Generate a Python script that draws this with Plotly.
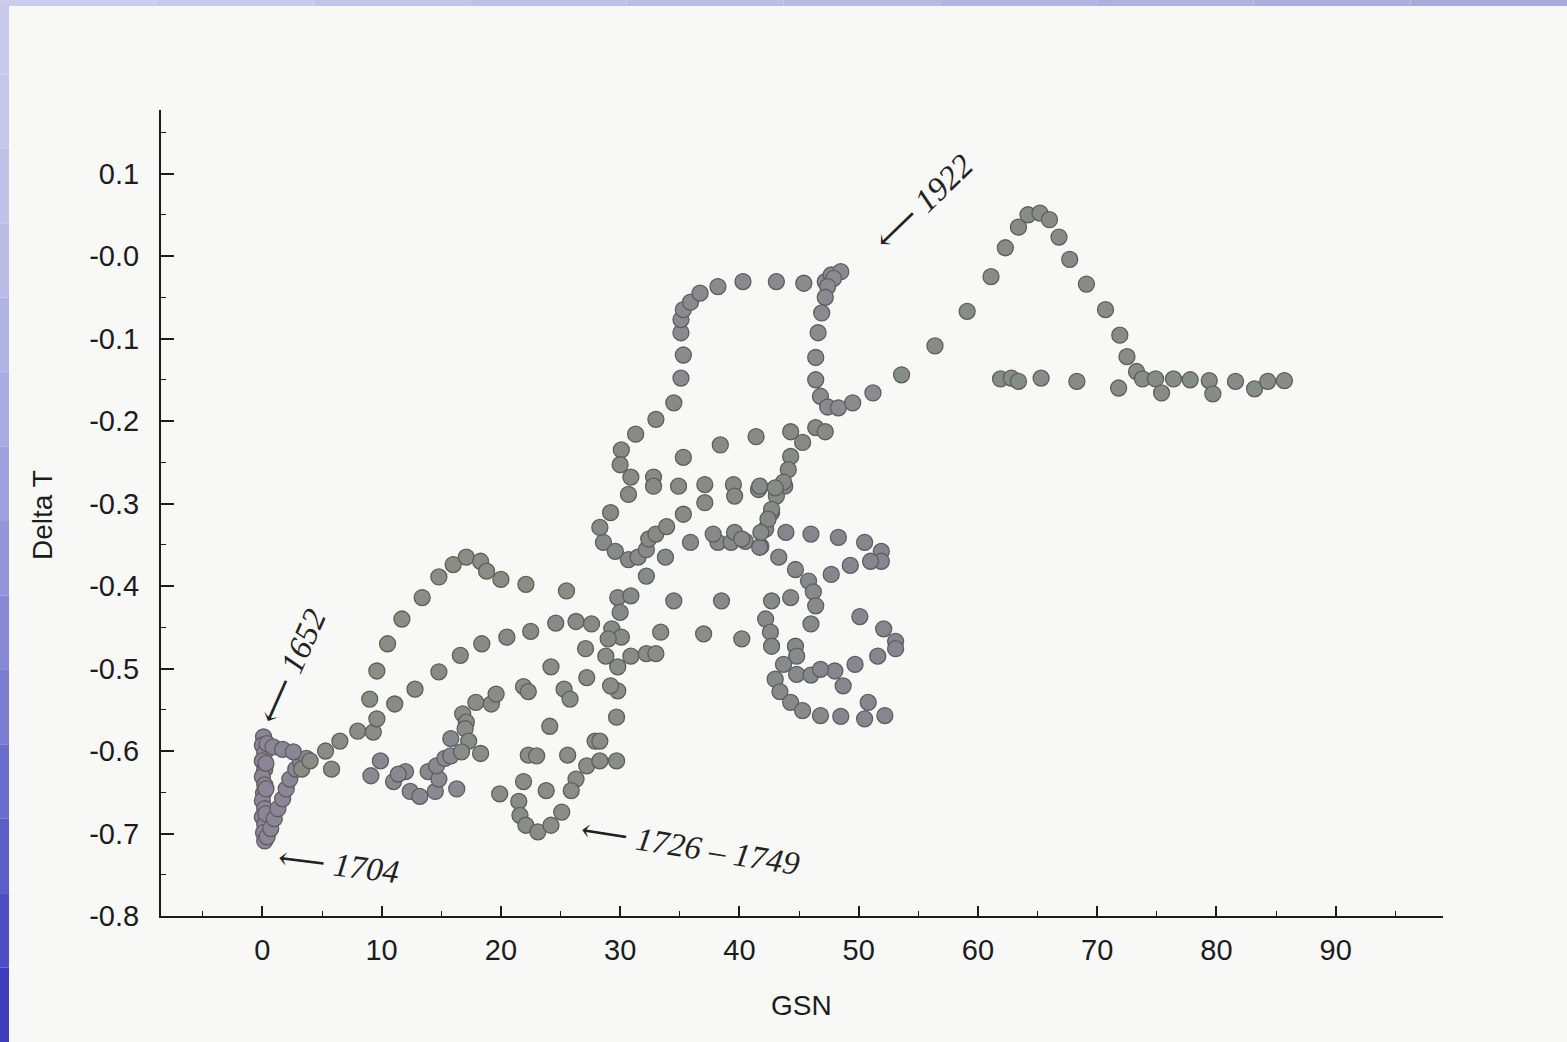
import plotly.graph_objects as go

# ---- data (GSN vs Delta T) ----
maunder_gsn = [0.1,0.0,0.2,0.0,0.2,0.0,0.2,0.1,0.0,0.2,0.0,0.2,0.1,0.2,0.4,0.3,0.3,0.3,0.4,
               0.7,1.0,1.3,1.7,2.0,2.3,2.8,3.2,3.7,0.9,1.7,2.6]
maunder_dt = [-0.583,-0.593,-0.602,-0.612,-0.622,-0.631,-0.641,-0.651,-0.660,-0.670,-0.680,-0.689,-0.699,-0.709,
              -0.591,-0.615,-0.646,-0.676,-0.704,
              -0.694,-0.682,-0.670,-0.658,-0.646,-0.634,-0.622,-0.613,-0.609,-0.595,-0.598,-0.601]

arc_gsn = [3.3,4.0,5.8,5.3,6.5,8.0,9.3,9.6,9.0,9.6,10.5,11.7,13.4,14.8,16.0,17.1,18.3,18.8,20.0,22.1,25.5]
arc_dt = [-0.622,-0.612,-0.622,-0.600,-0.588,-0.576,-0.577,-0.561,-0.537,-0.503,-0.470,-0.440,-0.414,-0.389,
          -0.374,-0.365,-0.370,-0.382,-0.392,-0.398,-0.406]

mid_gsn = [11.1,12.8,14.8,16.6,18.4,20.5,22.5,24.6,26.3,27.6,29.3,30.1,29.0]
mid_dt = [-0.543,-0.525,-0.504,-0.484,-0.470,-0.462,-0.455,-0.445,-0.443,-0.446,-0.452,-0.462,-0.464]

ring_gsn = [9.9,9.1,11.0,12.0,12.4,13.2,13.9,14.5,14.8,14.6,15.3,15.8,15.8,16.3,11.4]
ring_dt = [-0.612,-0.630,-0.637,-0.625,-0.649,-0.655,-0.625,-0.649,-0.634,-0.618,-0.609,-0.606,-0.585,-0.646,-0.628]

low_gsn = [16.8,17.1,17.0,17.3,16.7,18.3,17.9,19.2,19.6,21.9,22.3,24.2,25.3,25.8,27.1,27.2,24.1,22.3,23.0,25.6,
           27.9,27.2,26.3,25.9,23.8,21.9,19.9,21.5,21.6,22.1,23.1,24.2,25.1,28.3,29.7,28.3,29.7,29.8,29.2,29.8,
           28.8,30.9,32.2,33.0,33.4,37.0,40.2]
low_dt = [-0.555,-0.565,-0.573,-0.588,-0.601,-0.603,-0.541,-0.543,-0.531,-0.522,-0.528,-0.498,-0.525,-0.537,
          -0.476,-0.511,-0.570,-0.605,-0.606,-0.605,-0.588,-0.618,-0.634,-0.648,-0.648,-0.637,-0.652,-0.661,
          -0.678,-0.690,-0.698,-0.690,-0.674,-0.612,-0.612,-0.588,-0.559,-0.527,-0.521,-0.498,-0.485,-0.485,
          -0.482,-0.482,-0.456,-0.458,-0.464]

upmid_gsn = [28.6,29.6,30.7,31.5,32.2,33.8,35.9,38.2,39.3,41.8,43.3,44.7,45.8,46.2,46.4,46.0,
             32.2,29.8,30.9,30.0,34.5,38.5,
             42.7,44.3,42.2,42.6,42.7,44.7,44.8,43.7,44.8,46.0,43.0,43.4,44.3,45.3,46.8]
upmid_dt = [-0.347,-0.358,-0.368,-0.365,-0.356,-0.365,-0.347,-0.347,-0.347,-0.352,-0.365,-0.380,-0.394,-0.407,-0.424,-0.446,
            -0.388,-0.414,-0.412,-0.432,-0.418,-0.418,
            -0.418,-0.414,-0.440,-0.456,-0.473,-0.473,-0.485,-0.495,-0.507,-0.508,-0.513,-0.528,-0.541,-0.551,-0.557]

right_gsn = [48.5,48.7,50.8,50.5,52.2,50.1,52.1,53.1,53.1,51.6,49.7,48.0,46.8,
             41.6,43.8,42.7,42.2,40.5,41.7,43.9,46.0,48.3,50.5,51.9,51.9,51.0,49.3,47.7]
right_dt = [-0.558,-0.521,-0.541,-0.561,-0.557,-0.437,-0.452,-0.467,-0.476,-0.485,-0.495,-0.503,-0.501,
            -0.283,-0.279,-0.311,-0.331,-0.346,-0.353,-0.335,-0.337,-0.341,-0.347,-0.358,-0.370,-0.370,-0.375,-0.386]

center_gsn = [34.5,33.0,31.3,30.1,30.0,30.9,30.7,32.8,32.8,35.3,34.9,38.4,41.4,44.3,46.4,47.2,45.3,44.3,44.1,43.7,
              43.1,42.7,42.4,41.8,37.1,39.5,39.6,37.1,41.7,43.0,35.3,29.2,28.3,32.4,33.0,33.9,37.8,39.6,40.2]
center_dt = [-0.178,-0.198,-0.216,-0.235,-0.253,-0.268,-0.289,-0.268,-0.279,-0.244,-0.279,-0.229,-0.219,-0.213,
             -0.208,-0.213,-0.226,-0.243,-0.259,-0.274,-0.291,-0.307,-0.319,-0.335,-0.277,-0.277,-0.291,-0.299,
             -0.279,-0.281,-0.313,-0.311,-0.329,-0.343,-0.337,-0.328,-0.337,-0.335,-0.343]

loop_gsn = [35.1,35.3,35.1,35.1,35.3,35.9,36.7,38.2,40.3,43.1,45.4,47.2,47.7,48.5,47.9,47.4,47.2,46.9,46.6,46.4,
            46.4,46.8,47.4,48.3,49.5,51.2]
loop_dt = [-0.148,-0.120,-0.093,-0.077,-0.065,-0.056,-0.045,-0.037,-0.031,-0.031,-0.033,-0.031,-0.023,-0.019,
           -0.027,-0.037,-0.050,-0.069,-0.093,-0.123,-0.150,-0.170,-0.183,-0.184,-0.178,-0.166]

modern_gsn = [53.6,56.4,59.1,61.1,62.3,63.4,64.2,65.2,66.0,66.8,67.7,69.1,70.7,71.9,72.5,73.3,73.8,74.9,76.4,77.8,
              79.4,79.7,81.6,83.2,84.3,85.7,75.4,71.8,61.9,62.8,63.4,65.3,68.3]
modern_dt = [-0.144,-0.109,-0.067,-0.025,0.010,0.035,0.050,0.052,0.044,0.023,-0.004,-0.034,-0.065,-0.096,-0.122,
             -0.140,-0.149,-0.149,-0.149,-0.150,-0.151,-0.167,-0.152,-0.161,-0.152,-0.151,-0.166,-0.160,-0.149,
             -0.148,-0.152,-0.148,-0.152]

x_ticks = [0, 10, 20, 30, 40, 50, 60, 70, 80, 90]
y_ticks = [-0.8, -0.7, -0.6, -0.5, -0.4, -0.3, -0.2, -0.1, 0.0, 0.1]
y_labels = ["-0.8", "-0.7", "-0.6", "-0.5", "-0.4", "-0.3", "-0.2", "-0.1", "-0.0", "0.1"]

labels = ["1652", "1704", "1726 \u2013 1749", "1922"]
label_gsn = [2.5, 6.4, 35.9, 55.5]
label_dt = [-0.497, -0.738, -0.716, 0.065]
label_angle = [-66, 7, 9, -44]

segments = [
    (maunder_gsn, maunder_dt, "#8c8597"),
    (arc_gsn, arc_dt, "#898d84"),
    (mid_gsn, mid_dt, "#878b86"),
    (ring_gsn, ring_dt, "#8a8890"),
    (low_gsn, low_dt, "#898c87"),
    (upmid_gsn, upmid_dt, "#88898c"),
    (right_gsn, right_dt, "#878690"),
    (center_gsn, center_dt, "#888a88"),
    (loop_gsn, loop_dt, "#8b8a90"),
    (modern_gsn, modern_dt, "#888c86"),
]

W, H = 1567, 1042
L, R, T, B = 161, 124, 110, 126

fig = go.Figure()
for gx, gy, col in segments:
    fig.add_trace(go.Scatter(
        x=gx, y=gy, mode="markers", showlegend=False, hoverinfo="skip",
        marker=dict(size=16, color=col, line=dict(color="#5d5f5c", width=1.3)),
    ))

axis_col = "#1c1c1c"
tick_font = dict(family="Liberation Sans, Arial, sans-serif", size=29, color=axis_col)

fig.update_xaxes(
    range=[-8.5, 99], showgrid=False, zeroline=False,
    showline=True, linecolor=axis_col, linewidth=2,
    ticks="inside", ticklen=10, tickwidth=1.5, tickcolor=axis_col,
    tickmode="array", tickvals=x_ticks, ticktext=[str(v) for v in x_ticks],
    tickfont=tick_font, ticklabelstandoff=7,
    minor=dict(dtick=5, tick0=0, ticks="inside", ticklen=5, tickwidth=1, tickcolor=axis_col),
)
fig.update_yaxes(
    range=[-0.8, 0.177], showgrid=False, zeroline=False,
    showline=True, linecolor=axis_col, linewidth=2,
    ticks="inside", ticklen=13, tickwidth=1.5, tickcolor=axis_col,
    tickmode="array", tickvals=y_ticks, ticktext=y_labels,
    tickfont=tick_font, ticklabelstandoff=14,
    minor=dict(dtick=0.05, tick0=0, ticks="inside", ticklen=5, tickwidth=1, tickcolor=axis_col),
)

def px_x(p):
    return (p - L) / (W - L - R)

def px_y(p):
    return (H - B - p) / (H - T - B)

shapes = []
# left blue border gradient
n = 14
top_c = (200, 202, 236)
bot_c = (60, 62, 190)
for i in range(n):
    f = i / (n - 1)
    c = tuple(int(top_c[k] + (bot_c[k] - top_c[k]) * f ** 1.6) for k in range(3))
    shapes.append(dict(type="rect", xref="paper", yref="paper",
                       x0=px_x(0), x1=px_x(9), y0=px_y(H * (i + 1) / n), y1=px_y(H * i / n),
                       fillcolor="rgb(%d,%d,%d)" % c, line=dict(width=0), layer="below"))
# top border
m = 10
lc = (204, 204, 236)
rc = (170, 170, 222)
for i in range(m):
    f = i / (m - 1)
    c = tuple(int(lc[k] + (rc[k] - lc[k]) * f) for k in range(3))
    shapes.append(dict(type="rect", xref="paper", yref="paper",
                       x0=px_x(W * i / m), x1=px_x(W * (i + 1) / m), y0=px_y(6), y1=px_y(0),
                       fillcolor="rgb(%d,%d,%d)" % c, line=dict(width=0), layer="below"))

annotations = [
    dict(text="Delta T", xref="paper", yref="paper", x=0, y=px_y(515), xshift=42 - L,
         textangle=-90, showarrow=False, xanchor="center", yanchor="middle",
         font=dict(family="Liberation Sans, Arial, sans-serif", size=28, color=axis_col)),
    dict(text="GSN", xref="paper", yref="paper", x=px_x(801), y=0, yshift=-(1005 - (H - B)),
         showarrow=False, xanchor="center", yanchor="middle",
         font=dict(family="Liberation Sans, Arial, sans-serif", size=28, color=axis_col)),
]
for t, gx, gy, ang in zip(labels, label_gsn, label_dt, label_angle):
    annotations.append(dict(text="\u27f5 <i>%s</i>" % t, x=gx, y=gy, xref="x", yref="y",
                            textangle=ang, showarrow=False, xanchor="center", yanchor="middle",
                            font=dict(family="Liberation Serif, DejaVu Serif, serif", size=33,
                                      color="#222222")))

fig.update_layout(
    width=W, height=H, autosize=False,
    margin=dict(l=L, r=R, t=T, b=B, pad=0),
    paper_bgcolor="#f8f8f7", plot_bgcolor="#f8f8f7",
    shapes=shapes, annotations=annotations,
)

fig.write_html("out.html")
